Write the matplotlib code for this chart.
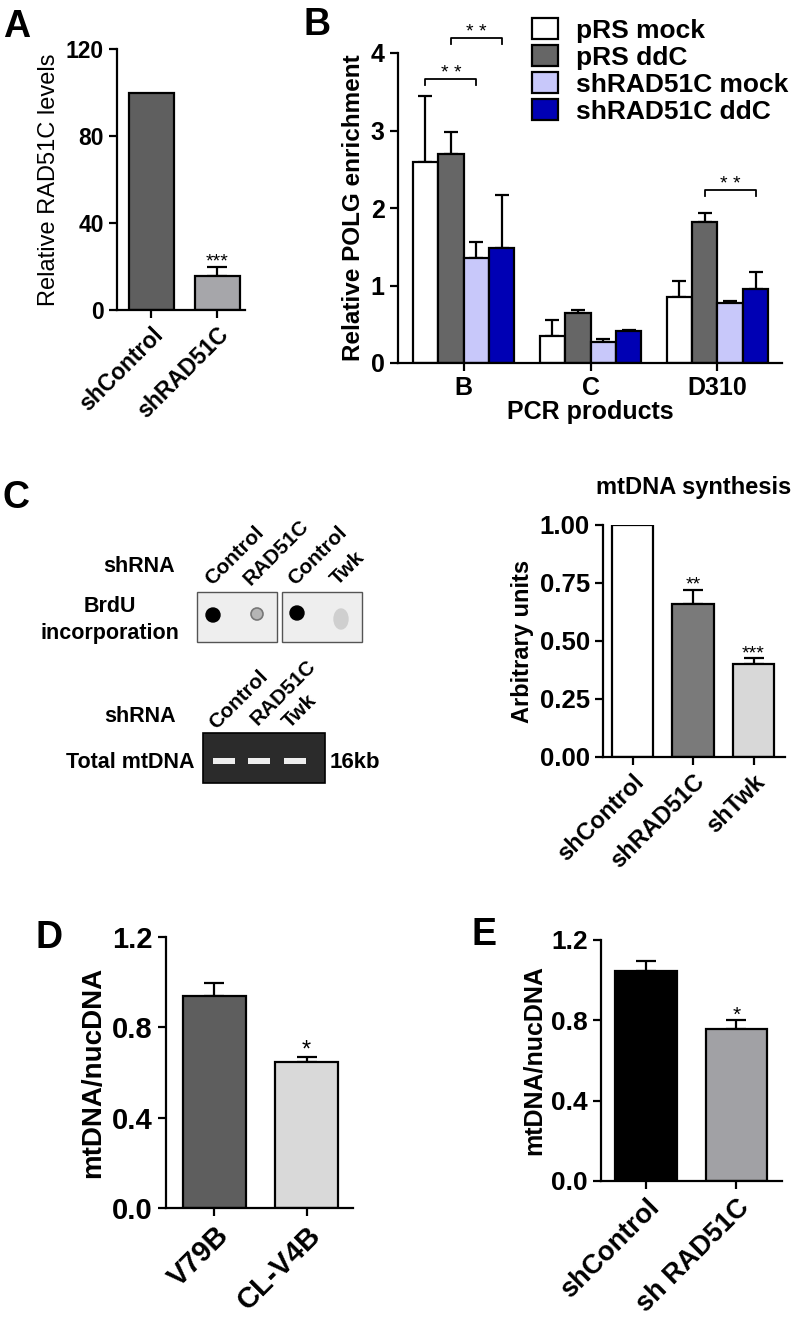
import matplotlib
matplotlib.use("Agg")
import matplotlib.pyplot as plt
from matplotlib.patches import Rectangle, Circle, Ellipse
import numpy as np

plt.rcParams["font.family"] = ["Liberation Sans", "DejaVu Sans"]
plt.rcParams["font.weight"] = "bold"
plt.rcParams["axes.labelweight"] = "bold"

W, H = 800, 1328

# ---- data ----
a_labels = ["shControl", "shRAD51C"]
a_values = [100, 15.5]
a_err = [0, 4.5]
a_colors = ["#5f5f5f", "#a6a6aa"]
a_stars = ["", "***"]

b_groups = ["B", "C", "D310"]
b_series = ["pRS mock", "pRS ddC", "shRAD51C mock", "shRAD51C ddC"]
b_values = [[2.60, 0.35, 0.85],
            [2.70, 0.64, 1.82],
            [1.35, 0.27, 0.78],
            [1.48, 0.41, 0.96]]
b_err = [[0.85, 0.21, 0.21],
         [0.28, 0.05, 0.11],
         [0.21, 0.04, 0.02],
         [0.69, 0.02, 0.22]]
b_colors = ["#ffffff", "#666666", "#c8c8fa", "#0000b4"]
# (group, series from, series to, bracket height)
b_brackets = [(0, 0, 2, 3.66), (0, 1, 3, 4.19), (2, 1, 3, 2.23)]

c_labels = ["shControl", "shRAD51C", "shTwk"]
c_values = [1.0, 0.66, 0.40]
c_err = [0, 0.06, 0.025]
c_colors = ["#ffffff", "#7a7a7a", "#d8d8d8"]
c_stars = ["", "**", "***"]

d_labels = ["V79B", "CL-V4B"]
d_values = [0.94, 0.645]
d_err = [0.055, 0.025]
d_colors = ["#5e5e5e", "#d9d9d9"]
d_stars = ["", "*"]

e_labels = ["shControl", "sh RAD51C"]
e_values = [1.045, 0.755]
e_err = [0.05, 0.045]
e_colors = ["#000000", "#a1a1a5"]
e_stars = ["", "*"]

LW = 1.6

fig = plt.figure(figsize=(W / 100, H / 100), dpi=100)


def px_axes(left, top, right, bottom):
    return fig.add_axes([left / W, 1 - bottom / H, (right - left) / W, (bottom - top) / H])


def style(ax, size):
    for s in ["top", "right"]:
        ax.spines[s].set_visible(False)
    for s in ["left", "bottom"]:
        ax.spines[s].set_linewidth(LW)
    ax.tick_params(width=LW, length=6, labelsize=size, direction="out")


def simple_bars(ax, labels, values, err, colors, stars, xlim, ylim, yticks, ylabels,
                ylabel, tsize, lsize, lweight="bold", xsize=None, ssize=14):
    x = np.arange(len(labels))
    ax.bar(x, values, width=0.68, color=colors, edgecolor="black", linewidth=LW, zorder=2)
    for xi, v, e, s in zip(x, values, err, stars):
        if e > 0:
            ax.errorbar(xi, v, yerr=[[0], [e]], fmt="none", ecolor="black",
                        elinewidth=LW, capsize=7, capthick=LW, zorder=1)
        if s:
            ax.text(xi, v + e, s, ha="center", va="baseline", fontsize=ssize,
                    fontweight="normal")
    ax.set_xlim(*xlim)
    ax.set_ylim(*ylim)
    ax.set_yticks(yticks)
    ax.set_yticklabels(ylabels)
    ax.set_xticks(x)
    ax.set_xticklabels(labels, rotation=45, ha="right", rotation_mode="anchor")
    ax.set_ylabel(ylabel, fontsize=lsize, fontweight=lweight)
    style(ax, tsize)
    ax.tick_params(axis="x", labelsize=xsize or tsize)


# ---- panel A ----
axA = px_axes(117, 49, 245, 310)
simple_bars(axA, a_labels, a_values, a_err, a_colors, a_stars, (-0.52, 1.42), (0, 120),
            [0, 40, 80, 120], ["0", "40", "80", "120"], "Relative RAD51C levels",
            16.5, 17, lweight="normal", xsize=16.5)

# ---- panel B ----
axB = px_axes(398, 53, 782, 363)
w = 0.2
gx = np.arange(len(b_groups))
for i, (name, vals, errs, col) in enumerate(zip(b_series, b_values, b_err, b_colors)):
    pos = gx + (i - 1.5) * w
    axB.bar(pos, vals, width=w, color=col, edgecolor="black", linewidth=LW,
            label=name, zorder=2)
    axB.errorbar(pos, vals, yerr=[np.zeros(len(vals)), errs], fmt="none", ecolor="black",
                 elinewidth=LW, capsize=5, capthick=LW, zorder=1)
for g, i, j, y in b_brackets:
    x1 = g + (i - 1.5) * w
    x2 = g + (j - 1.5) * w
    axB.plot([x1, x1, x2, x2], [y - 0.07, y, y, y - 0.07], color="black", lw=1.3,
             clip_on=False)
    axB.text((x1 + x2) / 2, y + 0.02, "* *", ha="center", va="baseline", fontsize=14,
             fontweight="normal")
axB.set_xlim(-0.516, 2.508)
axB.set_ylim(0, 4)
axB.set_yticks([0, 1, 2, 3, 4])
axB.set_xticks(gx)
axB.set_xticklabels(b_groups)
axB.set_ylabel("Relative POLG enrichment", fontsize=17.5, labelpad=4)
axB.set_xlabel("PCR products", fontsize=18, labelpad=0)
style(axB, 18)
fig.legend(*axB.get_legend_handles_labels(), loc="upper left",
           bbox_to_anchor=(532 / W, 1 - 18 / H), frameon=False, fontsize=19,
           handlelength=1.0, handleheight=0.85, handletextpad=0.65, labelspacing=0.09,
           borderpad=0, borderaxespad=0)

# ---- panel C (chart) ----
axC = px_axes(603, 525, 785, 757)
simple_bars(axC, c_labels, c_values, c_err, c_colors, c_stars, (-0.488, 2.52), (0, 1.0),
            [0, 0.25, 0.5, 0.75, 1.0], ["0.00", "0.25", "0.50", "0.75", "1.00"],
            "Arbitrary units", 18.5, 17, xsize=17)
axC.set_title("mtDNA synthesis", fontsize=17, fontweight="bold", pad=22)

# ---- panel D ----
axD = px_axes(166, 937, 353, 1208)
simple_bars(axD, d_labels, d_values, d_err, d_colors, d_stars, (-0.527, 1.505), (0, 1.2),
            [0, 0.4, 0.8, 1.2], ["0.0", "0.4", "0.8", "1.2"], "mtDNA/nucDNA",
            21, 20, xsize=21, ssize=17)

# ---- panel E ----
axE = px_axes(601, 940, 782, 1181)
simple_bars(axE, e_labels, e_values, e_err, e_colors, e_stars, (-0.497, 1.503), (0, 1.2),
            [0, 0.4, 0.8, 1.2], ["0.0", "0.4", "0.8", "1.2"], "mtDNA/nucDNA",
            19, 18, xsize=19.5, ssize=15)

# ---- overlay: panel letters, blots ----
ov = fig.add_axes([0, 0, 1, 1])
ov.set_xlim(0, W)
ov.set_ylim(H, 0)
ov.axis("off")
ov.patch.set_alpha(0)

for letter, lx, ly in [("A", 3, 37), ("B", 303, 35), ("C", 3, 508), ("D", 35, 948),
                       ("E", 472, 945)]:
    ov.text(lx, ly, letter, fontsize=27, fontweight="bold", ha="left", va="baseline")

# dot blot
ov.text(175, 567, "shRNA", fontsize=15.5, ha="right", va="center")
ov.text(110, 606, "BrdU", fontsize=15.5, ha="center", va="center")
ov.text(110, 633, "incorporation", fontsize=15.5, ha="center", va="center")
for x0 in (197, 282):
    ov.add_patch(Rectangle((x0, 592), 80, 50, facecolor="#eeeeee", edgecolor="#555555",
                           lw=1))
ov.add_patch(Circle((213, 615), 7, color="black"))
ov.add_patch(Circle((257, 614), 6, facecolor="#b5b5b5", edgecolor="#777777", lw=1.2))
ov.add_patch(Circle((297, 613), 7, color="black"))
ov.add_patch(Ellipse((341, 619), 14, 20, color="#cfcfcf"))
for txt, tx in [("Control", 212), ("RAD51C", 251), ("Control", 295), ("Twk", 338)]:
    ov.text(tx, 586, txt, fontsize=15, rotation=45, rotation_mode="anchor",
            ha="left", va="baseline")

# gel
ov.text(176, 717, "shRNA", fontsize=15.5, ha="right", va="center")
ov.text(195, 762, "Total mtDNA", fontsize=15.5, ha="right", va="center")
ov.text(330, 762, "16kb", fontsize=16, ha="left", va="center")
ov.add_patch(Rectangle((203, 733), 122, 50, facecolor="#2b2b2b", edgecolor="black", lw=1.2))
for bx in (224, 259, 295):
    ov.add_patch(Rectangle((bx - 11, 758), 22, 6, facecolor="#eeeeee", edgecolor="none"))
for txt, tx, ty in [("Control", 216, 730), ("RAD51C", 258, 726), ("Twk", 290, 729)]:
    ov.text(tx, ty, txt, fontsize=15, rotation=45, rotation_mode="anchor",
            ha="left", va="baseline")

fig.savefig("out.png", dpi=100)
